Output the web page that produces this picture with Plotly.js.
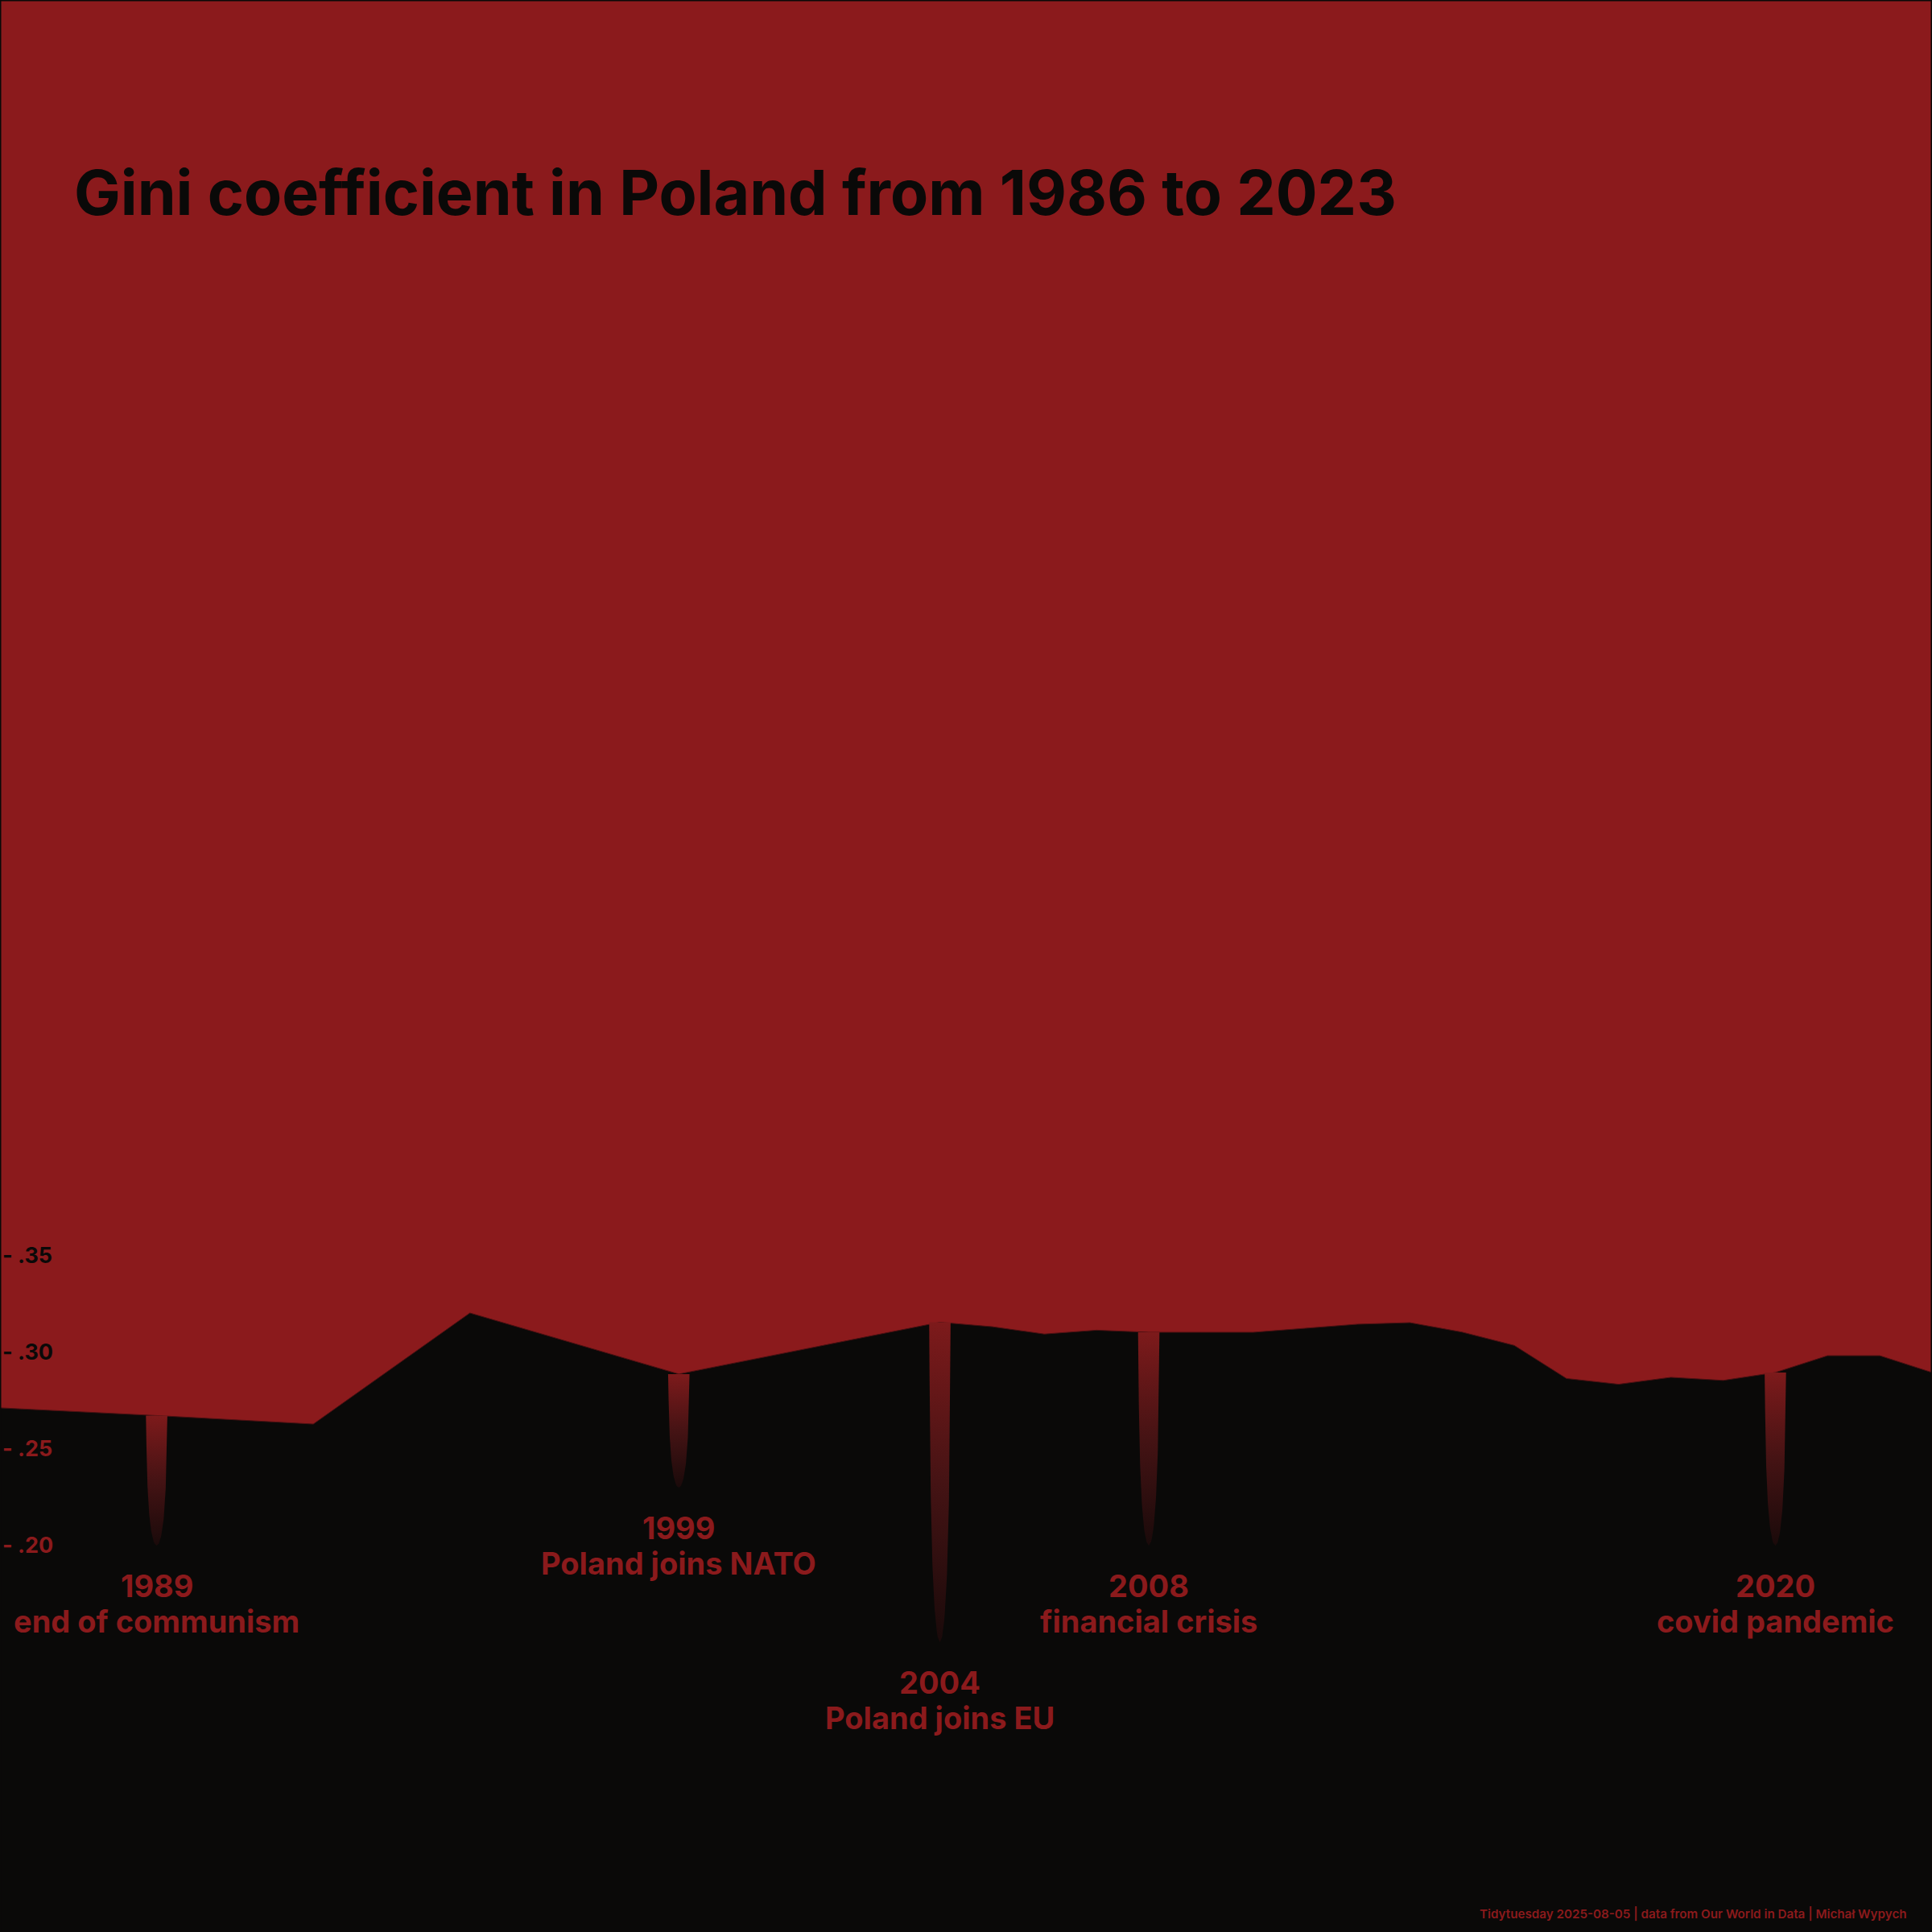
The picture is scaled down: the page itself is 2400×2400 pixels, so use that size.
<!DOCTYPE html>
<html>
<head>
<meta charset="utf-8">
<script src="https://cdn.plot.ly/plotly-3.0.1.min.js"></script>
<style>html,body{margin:0;padding:0;background:#8B1A1C;}#chart{width:2400px;height:2400px;}</style>
</head>
<body>
<div id="chart"></div>
<script>
// ---- data ----
const years = [1986, 1989, 1992, 1995, 1999, 2004, 2005, 2006, 2007, 2008, 2009, 2010, 2011, 2012, 2013, 2014, 2015, 2016, 2017, 2018, 2019, 2020, 2021, 2022, 2023];
const gini  = [0.2713, 0.2673, 0.2629, 0.3204, 0.2888, 0.3156, 0.3133, 0.3095, 0.3115, 0.3104, 0.3104, 0.3104, 0.3125, 0.3146, 0.3154, 0.3105, 0.3036, 0.2865, 0.2835, 0.2871, 0.2855, 0.2896, 0.2983, 0.2983, 0.2896];
const eventYears  = [1989, 1999, 2004, 2008, 2020];
const eventLabels = ["end of communism", "Poland joins NATO", "Poland joins EU", "financial crisis", "covid pandemic"];
const dripEnds    = [0.20, 0.23, 0.15, 0.20, 0.20];
const tickVals    = [0.20, 0.25, 0.30, 0.35];
const tickLabels  = [".20", ".25", ".30", ".35"];
const titleText   = "Gini coefficient in Poland from 1986 to 2023";
const captionText = "Tidytuesday 2025-08-05 | data from Our World in Data | Michał Wypych";

// ---- style ----
const RED = "#8B1A1C";
const BLACK = "#0A0908";
const FONT = "Inter";

function interp(x) {
  for (let i = 0; i < years.length - 1; i++) {
    if (x >= years[i] && x <= years[i + 1]) {
      const f = (x - years[i]) / (years[i + 1] - years[i]);
      return gini[i] + f * (gini[i + 1] - gini[i]);
    }
  }
  return gini[gini.length - 1];
}

const traces = [];
traces.push({
  type: "scatter", mode: "lines", x: years, y: gini,
  fill: "tozeroy", fillcolor: BLACK,
  line: {color: "#4a1012", width: 1},
  hoverinfo: "skip", showlegend: false
});

const HALF = 0.205; // half width of a drip in years
const N = 60;
eventYears.forEach((yr, k) => {
  const top = interp(yr);
  const end = dripEnds[k];
  const xs = [], ys = [];
  for (let i = 0; i <= N; i++) {
    const t = i / N;
    const h = HALF * (1 - 0.2 * t) * Math.sqrt(Math.max(0, 1 - Math.pow(t, 4)));
    xs.push(yr + h); ys.push(top - t * (top - end));
  }
  for (let i = N; i >= 0; i--) {
    const t = i / N;
    const h = HALF * (1 - 0.2 * t) * Math.sqrt(Math.max(0, 1 - Math.pow(t, 4)));
    xs.push(yr - h); ys.push(top - t * (top - end));
  }
  traces.push({
    type: "scatter", mode: "lines", x: xs, y: ys,
    fill: "toself",
    fillgradient: {type: "vertical", start: end, stop: top,
      colorscale: [[0, "#1a0a0a"], [0.5, "#451314"], [1, "#7d1a1b"]]},
    line: {width: 0},
    hoverinfo: "skip", showlegend: false
  });
});

const annotations = [];
eventYears.forEach((yr, k) => {
  annotations.push({
    x: yr, y: dripEnds[k], xref: "x", yref: "y",
    text: String(yr), showarrow: false, xanchor: "center", yanchor: "middle", yshift: -50,
    font: {family: FONT, size: 38, weight: 700, color: RED}
  });
  annotations.push({
    x: yr, y: dripEnds[k], xref: "x", yref: "y",
    text: eventLabels[k], showarrow: false, xanchor: "center", yanchor: "middle", yshift: -94,
    font: {family: FONT, size: 38, weight: 700, color: RED}
  });
});
annotations.push({
  x: 0.988, y: 0.0092, xref: "paper", yref: "paper",
  text: captionText, showarrow: false, xanchor: "right", yanchor: "middle",
  font: {family: FONT, size: 15.2, weight: 600, color: RED}
});

const tickText = tickVals.map((v, i) => {
  const c = v < 0.27 ? RED : BLACK;
  return '<span style="color:' + c + '">- ' + tickLabels[i] + '</span>';
});

const layout = {
  width: 2400, height: 2400,
  margin: {l: 0, r: 0, t: 0, b: 0, pad: 0},
  paper_bgcolor: RED, plot_bgcolor: RED,
  showlegend: false,
  title: {text: titleText, x: 92 / 2400, xanchor: "left", xref: "container",
    y: 0.9, yanchor: "middle", yref: "container",
    font: {family: FONT, size: 77, weight: 700, color: BLACK}},
  xaxis: {range: [1986, 2023], visible: false, fixedrange: true},
  yaxis: {range: [0, 1], showgrid: false, zeroline: false, showline: false,
    tickvals: tickVals, ticktext: tickText, ticks: "",
    ticklabelposition: "inside", fixedrange: true,
    tickfont: {family: FONT, size: 27, weight: 700, color: BLACK}},
  annotations: annotations,
  shapes: [{type: "rect", xref: "paper", yref: "paper", x0: 0, x1: 1, y0: 0, y1: 1,
    line: {color: BLACK, width: 3}, fillcolor: "rgba(0,0,0,0)", layer: "above"}]
};

Plotly.newPlot("chart", traces, layout, {staticPlot: true, displayModeBar: false});
</script>
</body>
</html>
